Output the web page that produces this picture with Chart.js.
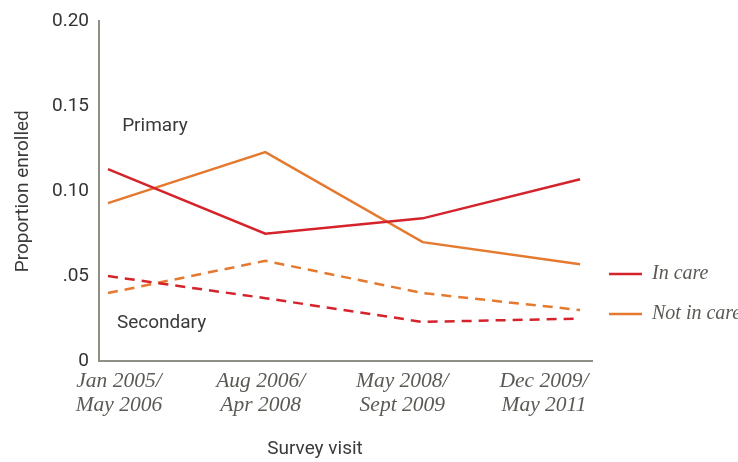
<!DOCTYPE html>
<html>
<head>
<meta charset="utf-8">
<script src="https://cdn.jsdelivr.net/npm/chart.js@4"></script>
<style>
  html, body { margin: 0; padding: 0; background: #fff; }
  #wrap { width: 738px; height: 462px; }
</style>
</head>
<body>
<div id="wrap"><canvas id="c"></canvas></div>
<script>
// ── data ──
const visits = [
  ['Jan 2005/', 'May 2006'],
  ['Aug 2006/', 'Apr 2008'],
  ['May 2008/', 'Sept 2009'],
  ['Dec 2009/', 'May 2011']
];
const primaryInCare      = [0.113, 0.075, 0.084, 0.107];
const primaryNotInCare   = [0.093, 0.123, 0.070, 0.057];
const secondaryInCare    = [0.050, 0.037, 0.023, 0.025];
const secondaryNotInCare = [0.040, 0.059, 0.040, 0.030];
const yTickLabels = ['0', '.05', '0.10', '0.15', '0.20'];
const legendLabels = ['In care', 'Not in care'];

const RED    = '#d5232c';
const ORANGE = '#e4792f';
const AXIS   = '#8f8f86';
const SANS   = "Roboto, 'Liberation Sans', sans-serif";
const SERIF  = "'Liberation Serif', 'DejaVu Serif', serif";

const pts = arr => arr.map((v, i) => ({ x: i, y: v }));

function series(data, color, dashed) {
  return {
    data: pts(data),
    borderColor: color,
    borderWidth: 2.5,
    borderDash: dashed ? [10, 7] : [],
    pointRadius: 0,
    tension: 0,
    fill: false
  };
}

// labels, legend and titles drawn on top of the chart
const annotate = {
  id: 'annotate',
  afterDraw(chart) {
    const ctx = chart.ctx;
    const xs = chart.scales.x, ys = chart.scales.y;
    ctx.save();
    ctx.font = '19px ' + SANS;
    ctx.fillStyle = '#3a3a3a';
    ctx.textBaseline = 'middle';
    ctx.textAlign = 'left';
    ctx.fillText('Primary',   xs.getPixelForValue(0.09),  ys.getPixelForValue(0.138));
    ctx.fillText('Secondary', xs.getPixelForValue(0.057), ys.getPixelForValue(0.022));

    ctx.textAlign = 'center';
    ctx.fillText('Survey visit', 315, 449);

    // legend
    const colors = [RED, ORANGE];
    ctx.font = 'italic 20px ' + SERIF;
    ctx.textAlign = 'left';
    legendLabels.forEach((lab, i) => {
      const y = 274 + i * 40;
      ctx.strokeStyle = colors[i];
      ctx.lineWidth = 2.5;
      ctx.beginPath();
      ctx.moveTo(609, y);
      ctx.lineTo(642, y);
      ctx.stroke();
      ctx.fillStyle = '#5a5a55';
      ctx.fillText(lab, 652, y);
    });
    ctx.restore();
  }
};

new Chart(document.getElementById('c'), {
  type: 'line',
  data: {
    datasets: [
      series(primaryInCare,      RED,    false),
      series(primaryNotInCare,   ORANGE, false),
      series(secondaryInCare,    RED,    true),
      series(secondaryNotInCare, ORANGE, true)
    ]
  },
  options: {
    responsive: true,
    maintainAspectRatio: false,
    animation: false,
    layout: { padding: { top: 20, right: 146, left: 0, bottom: 0 } },
    plugins: { legend: { display: false }, tooltip: { enabled: false } },
    scales: {
      x: {
        type: 'linear',
        min: -0.057,
        max: 3.076,
        display: false
      },
      xl: {
        type: 'linear',
        position: 'bottom',
        min: -0.141,
        max: 3.339,
        grid: { display: false, drawTicks: false },
        border: { display: true, color: AXIS, width: 2 },
        ticks: {
          stepSize: 1,
          includeBounds: false,
          padding: 8,
          color: '#5a5a55',
          font: { family: SERIF, size: 21.5, style: 'italic', lineHeight: 1.13 },
          maxRotation: 0,
          autoSkip: false,
          callback: v => Number.isInteger(v) ? visits[v] : ''
        },
        afterFit: s => { s.height = 101; }
      },
      y: {
        min: 0,
        max: 0.20,
        grid: { display: false, drawTicks: false },
        border: { display: true, color: AXIS, width: 2 },
        ticks: {
          stepSize: 0.05,
          padding: 10,
          color: '#333',
          font: { family: SANS, size: 19 },
          callback: v => yTickLabels[Math.round(v / 0.05)]
        },
        title: {
          display: true,
          text: 'Proportion enrolled',
          color: '#3a3a3a',
          font: { family: SANS, size: 19 },
          padding: { top: 12, bottom: 0 }
        },
        afterFit: s => { s.width = 99; }
      }
    }
  },
  plugins: [annotate]
});
</script>
</body>
</html>
